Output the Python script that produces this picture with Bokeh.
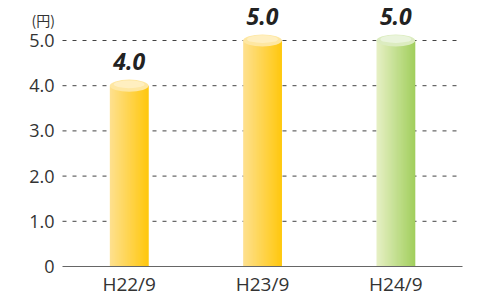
from bokeh.plotting import figure
from bokeh.models import Range1d, FixedTicker, LinearAxis
from bokeh.core.properties import value
from bokeh.embed import file_html
from bokeh.resources import INLINE

categories = ["H22/9", "H23/9", "H24/9"]
values = [4.0, 5.0, 5.0]
value_labels = ["4.0", "5.0", "5.0"]
y_ticks = [0, 1, 2, 3, 4, 5]
y_tick_labels = ["0", "1.0", "2.0", "3.0", "4.0", "5.0"]
left_colors = ["#FEE08E", "#FEE08E", "#E6F0C4"]
right_colors = ["#FFC80F", "#FFC80F", "#A2CF5E"]
top_colors = ["#FEE7A2", "#FEE7A2", "#DCECC0"]
top_hi_colors = ["#FFF1C8", "#FFF1C8", "#EEF6E2"]
unit_label = "(円)"

W, H = 487, 296
n = len(categories)
px_x = 400 / n          # pixels per category
px_y = 45.2             # pixels per unit
x_range = Range1d(-62 / px_x, n + 25 / px_x)
y_range = Range1d(-(H - 266) / px_y, 266 / px_y)

p = figure(width=W, height=H, output_backend="svg", toolbar_location=None,
           x_range=x_range, y_range=y_range,
           x_axis_location=None, y_axis_location=None, min_border=0)
p.outline_line_color = None
p.background_fill_color = "white"
p.border_fill_color = "white"
for g in p.grid:
    g.visible = False

# dashed grid lines spanning the plot area only
grid_y = y_ticks[1:]
p.segment(x0=[0] * len(grid_y), x1=[n] * len(grid_y), y0=grid_y, y1=grid_y,
          line_color="#444444", line_dash="4 6", line_width=1)

def hex2rgb(h):
    h = h.lstrip("#")
    return tuple(int(h[i:i+2], 16) for i in (0, 2, 4))

def rgb2hex(c):
    return "#%02x%02x%02x" % tuple(int(round(v)) for v in c)

bw = 0.29
N = 40
for i, (v, lc, rc) in enumerate(zip(values, left_colors, right_colors)):
    cx = i + 0.5
    a, b = hex2rgb(lc), hex2rgb(rc)
    step = bw / N
    lefts, rights, cols = [], [], []
    for k in range(N):
        t = k / (N - 1)
        l = cx - bw / 2 + step * k
        lefts.append(l)
        rights.append(min(l + 2 * step, cx + bw / 2))
        cols.append(rgb2hex([a[j] + (b[j] - a[j]) * t for j in range(3)]))
    p.quad(left=lefts, right=rights, bottom=[0] * N, top=[v] * N,
           fill_color=cols, line_color=None)
    # cylinder top
    p.ellipse(x=[cx], y=[v], width=[bw], height=[0.27],
              fill_color=top_colors[i], line_color=None)
    p.ellipse(x=[cx], y=[v + 0.03], width=[bw * 0.8], height=[0.17],
              fill_color=top_hi_colors[i], line_color=None, fill_alpha=0.8)

p.text(x=[i + 0.5 for i in range(n)], y=values, text=value_labels,
       text_align="center", text_baseline="alphabetic", y_offset=-24,
       text_font_size="23px", text_font_style="bold italic",
       text_color="#222222", text_font=value("Open Sans"))

# unit label
p.text(x=[-31 / px_x], y=[247 / px_y], text=[unit_label],
       text_align="left", text_baseline="middle", text_font_size="14px",
       text_color="#333333", text_font=value("Noto Sans CJK JP"))

# axes
xaxis = LinearAxis(fixed_location=0, bounds=(0, n),
                   ticker=FixedTicker(ticks=[i + 0.5 for i in range(n)]),
                   major_label_overrides={i + 0.5: c for i, c in enumerate(categories)},
                   axis_line_color="#666666", axis_line_width=1.2,
                   major_tick_line_color=None, major_tick_out=0, major_tick_in=0,
                   minor_tick_line_color=None, major_label_standoff=4,
                   major_label_text_font="Open Sans",
                   major_label_text_font_size="19px",
                   major_label_text_color="#333333")
p.add_layout(xaxis, "below")

yaxis = LinearAxis(fixed_location=0,
                   ticker=FixedTicker(ticks=y_ticks),
                   major_label_overrides={t: l for t, l in zip(y_ticks, y_tick_labels)},
                   axis_line_color=None, major_tick_line_color=None,
                   major_tick_out=0, major_tick_in=0, minor_tick_line_color=None,
                   major_label_standoff=8,
                   major_label_text_font="Open Sans",
                   major_label_text_font_size="18px",
                   major_label_text_color="#333333")
p.add_layout(yaxis, "left")

open("out.html", "w").write(file_html(p, INLINE))
